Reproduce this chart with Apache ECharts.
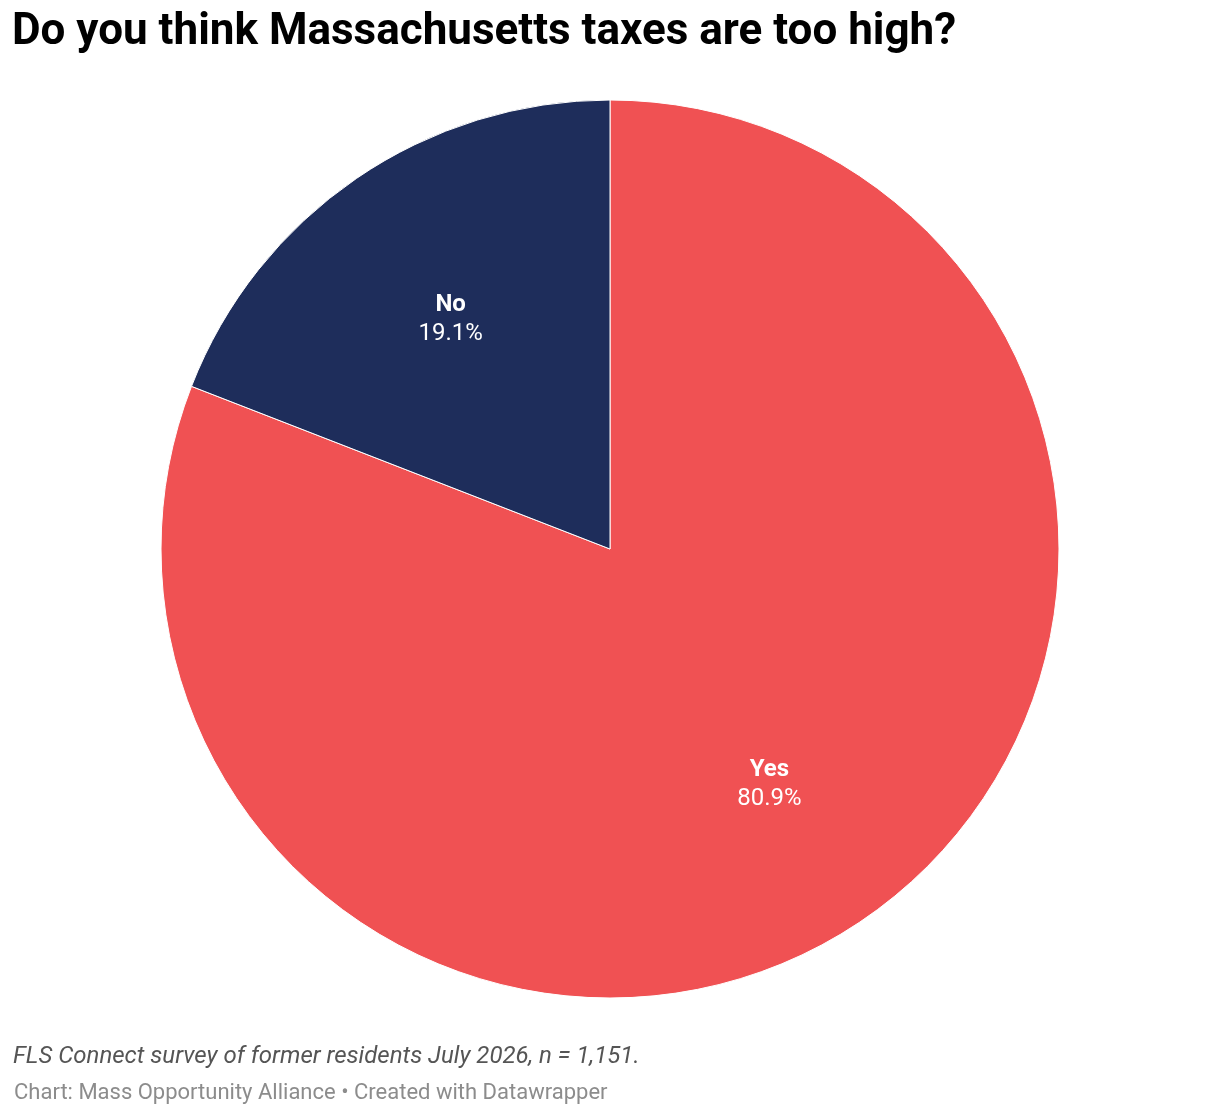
<!DOCTYPE html>
<html>
<head>
<meta charset="utf-8">
<script src="https://cdn.jsdelivr.net/npm/echarts@6/dist/echarts.min.js"></script>
<style>
  html, body { margin: 0; padding: 0; background: #fff; }
  #chart { width: 1220px; height: 1114px; }
</style>
</head>
<body>
<div id="chart"></div>
<script>
// 数据
const categories = ['Yes', 'No']
const values = [80.9, 19.1]
const colors = ['#f05153', '#1e2d5b']

const titleText = 'Do you think Massachusetts taxes are too high?'
const noteText = 'FLS Connect survey of former residents July 2026, n = 1,151.'
const creditText = 'Chart: Mass Opportunity Alliance • Created with Datawrapper'

// 标签微调
const labelOffsets = [[-3, -2], [3, 8]]

const pieData = categories.map((name, i) => ({
  name: name,
  value: values[i],
  itemStyle: { color: colors[i] }
}))

const chart = echarts.init(document.getElementById('chart'), null, { renderer: 'canvas' })
chart.setOption({
  animation: false,
  title: [{
    text: titleText,
    left: 7,
    top: 6,
    textStyle: { fontFamily: 'Roboto', fontWeight: 'bold', fontSize: 44, color: '#000' }
  }, {
    text: noteText,
    left: 8,
    top: 1040,
    textStyle: { fontFamily: 'Roboto', fontStyle: 'italic', fontWeight: 'normal', fontSize: 24, color: '#555' }
  }, {
    text: creditText,
    left: 9,
    top: 1077,
    textStyle: { fontFamily: 'Roboto', fontWeight: 'normal', fontSize: 22, color: '#8c8c8c' }
  }],
  series: [{
    // 主饼图
    type: 'pie',
    center: [610, 549],
    radius: [0, 449],
    startAngle: 90,
    clockwise: true,
    silent: true,
    itemStyle: { borderColor: '#fff', borderWidth: 1 },
    label: { show: false },
    labelLine: { show: false },
    data: pieData
  }, {
    // 标签层（透明），把标签放到约0.63半径处
    type: 'pie',
    center: [610, 549],
    radius: [120, 449],
    startAngle: 90,
    clockwise: true,
    silent: true,
    itemStyle: { color: 'transparent', borderWidth: 0 },
    label: {
      show: true,
      position: 'inside',
      formatter: p => '{b|' + p.name + '}\n{v|' + p.value.toFixed(1) + '%}',
      rich: {
        b: { fontFamily: 'Roboto', fontWeight: 'bold', fontSize: 24, color: '#fff', lineHeight: 29, align: 'center' },
        v: { fontFamily: 'Roboto', fontSize: 24, color: '#fff', lineHeight: 29, align: 'center' }
      }
    },
    labelLine: { show: false },
    data: categories.map((name, i) => ({
      name: name,
      value: values[i],
      label: { offset: labelOffsets[i] }
    }))
  }]
})
</script>
</body>
</html>
